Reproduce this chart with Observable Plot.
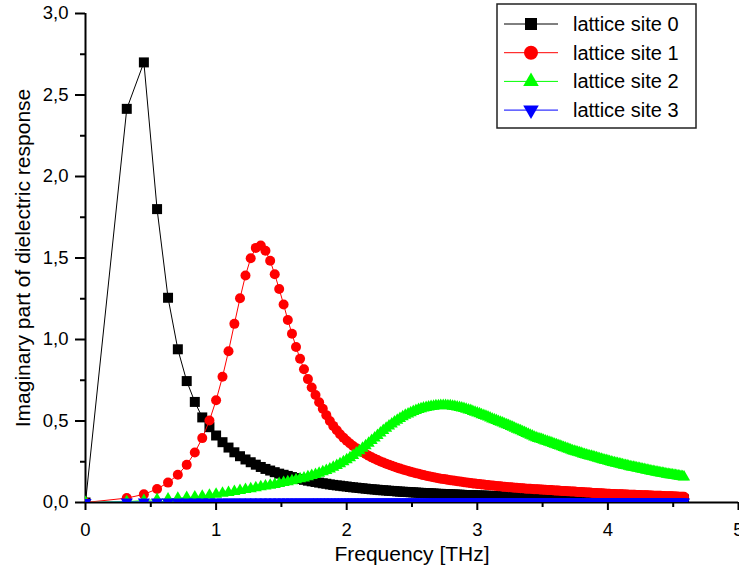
<!DOCTYPE html>
<html><head><meta charset="utf-8">
<script src="https://cdn.jsdelivr.net/npm/d3@7"></script>
<script src="https://cdn.jsdelivr.net/npm/@observablehq/plot@0.6"></script>
<style>
html,body{margin:0;padding:0;background:#fff;}
#wrap{position:relative;width:739px;height:574px;font-family:"Liberation Sans",Arial,Helvetica,sans-serif;}
#legend{position:absolute;left:496px;top:3px;}
</style></head><body><div id="wrap"></div>
<script>
// Frequency [THz]
const freq = [
0, 0.316, 0.447, 0.548, 0.632, 0.707, 0.775, 0.837, 0.894, 0.949,
1, 1.049, 1.095, 1.140, 1.183, 1.225, 1.265, 1.304, 1.342, 1.378,
1.414, 1.449, 1.483, 1.517, 1.549, 1.581, 1.612, 1.643, 1.673, 1.703,
1.732, 1.761, 1.789, 1.817, 1.844, 1.871, 1.897, 1.924, 1.949, 1.975,
2, 2.025, 2.049, 2.074, 2.098, 2.121, 2.145, 2.168, 2.191, 2.214,
2.236, 2.258, 2.280, 2.302, 2.324, 2.345, 2.366, 2.387, 2.408, 2.429,
2.449, 2.470, 2.490, 2.510, 2.530, 2.550, 2.569, 2.588, 2.608, 2.627,
2.646, 2.665, 2.683, 2.702, 2.720, 2.739, 2.757, 2.775, 2.793, 2.811,
2.828, 2.846, 2.864, 2.881, 2.898, 2.915, 2.933, 2.950, 2.966, 2.983,
3, 3.017, 3.033, 3.050, 3.066, 3.082, 3.098, 3.114, 3.130, 3.146,
3.162, 3.178, 3.194, 3.209, 3.225, 3.240, 3.256, 3.271, 3.286, 3.302,
3.317, 3.332, 3.347, 3.362, 3.376, 3.391, 3.406, 3.421, 3.435, 3.450,
3.464, 3.479, 3.493, 3.507, 3.521, 3.536, 3.550, 3.564, 3.578, 3.592,
3.606, 3.619, 3.633, 3.647, 3.661, 3.674, 3.688, 3.701, 3.715, 3.728,
3.742, 3.755, 3.768, 3.782, 3.795, 3.808, 3.821, 3.834, 3.847, 3.860,
3.873, 3.886, 3.899, 3.912, 3.924, 3.937, 3.950, 3.962, 3.975, 3.987,
4, 4.012, 4.025, 4.037, 4.050, 4.062, 4.074, 4.087, 4.099, 4.111,
4.123, 4.135, 4.147, 4.159, 4.171, 4.183, 4.195, 4.207, 4.219, 4.231,
4.243, 4.254, 4.266, 4.278, 4.290, 4.301, 4.313, 4.324, 4.336, 4.347,
4.359, 4.370, 4.382, 4.393, 4.405, 4.416, 4.427, 4.438, 4.450, 4.461,
4.472, 4.483, 4.494, 4.506, 4.517, 4.528, 4.539, 4.550, 4.561, 4.572,
4.583];

// lattice site 0
const site0 = [
0, 2.415, 2.70, 1.80, 1.256, 0.94, 0.745, 0.617, 0.522, 0.462,
0.411, 0.37, 0.337, 0.308, 0.284, 0.264, 0.247, 0.232, 0.218, 0.206,
0.196, 0.186, 0.177, 0.170, 0.163, 0.156, 0.150, 0.144, 0.139, 0.134,
0.130, 0.126, 0.122, 0.118, 0.115, 0.111, 0.108, 0.105, 0.103, 0.100,
0.098, 0.095, 0.093, 0.091, 0.089, 0.087, 0.085, 0.083, 0.081, 0.080,
0.078, 0.076, 0.075, 0.074, 0.072, 0.071, 0.070, 0.068, 0.067, 0.066,
0.065, 0.064, 0.063, 0.062, 0.061, 0.060, 0.059, 0.058, 0.057, 0.057,
0.056, 0.055, 0.054, 0.053, 0.053, 0.052, 0.051, 0.051, 0.050, 0.049,
0.049, 0.048, 0.048, 0.047, 0.046, 0.046, 0.045, 0.045, 0.044, 0.044,
0.043, 0.043, 0.042, 0.042, 0.041, 0.041, 0.041, 0.040, 0.040, 0.039,
0.039, 0.039, 0.038, 0.038, 0.038, 0.037, 0.037, 0.036, 0.036, 0.036,
0.035, 0.035, 0.035, 0.035, 0.034, 0.034, 0.034, 0.033, 0.033, 0.033,
0.033, 0.032, 0.032, 0.032, 0.031, 0.031, 0.031, 0.031, 0.030, 0.030,
0.030, 0.030, 0.030, 0.029, 0.029, 0.029, 0.029, 0.028, 0.028, 0.028,
0.028, 0.028, 0.027, 0.027, 0.027, 0.027, 0.027, 0.027, 0.026, 0.026,
0.026, 0.026, 0.026, 0.026, 0.025, 0.025, 0.025, 0.025, 0.025, 0.025,
0.024, 0.024, 0.024, 0.024, 0.024, 0.024, 0.023, 0.023, 0.023, 0.023,
0.023, 0.023, 0.023, 0.023, 0.022, 0.022, 0.022, 0.022, 0.022, 0.022,
0.022, 0.022, 0.021, 0.021, 0.021, 0.021, 0.021, 0.021, 0.021, 0.021,
0.021, 0.020, 0.020, 0.020, 0.020, 0.020, 0.020, 0.020, 0.020, 0.020,
0.020, 0.019, 0.019, 0.019, 0.019, 0.019, 0.019, 0.019, 0.019, 0.019,
0.019];

// lattice site 1
const site1 = [
0, 0.027, 0.05, 0.083, 0.122, 0.17, 0.231, 0.307, 0.395, 0.503,
0.627, 0.771, 0.928, 1.096, 1.253, 1.393, 1.499, 1.562, 1.577, 1.544,
1.483, 1.40, 1.31, 1.215, 1.12, 1.035, 0.954, 0.882, 0.817, 0.757,
0.705, 0.66, 0.615, 0.575, 0.536, 0.500, 0.470, 0.443, 0.419, 0.398,
0.379, 0.362, 0.347, 0.333, 0.320, 0.308, 0.297, 0.287, 0.277, 0.268,
0.260, 0.252, 0.245, 0.238, 0.232, 0.225, 0.219, 0.213, 0.208, 0.203,
0.198, 0.193, 0.188, 0.184, 0.180, 0.176, 0.172, 0.168, 0.164, 0.161,
0.158, 0.155, 0.152, 0.149, 0.146, 0.144, 0.142, 0.139, 0.137, 0.135,
0.133, 0.131, 0.129, 0.127, 0.125, 0.123, 0.121, 0.119, 0.117, 0.116,
0.114, 0.113, 0.111, 0.110, 0.108, 0.107, 0.105, 0.104, 0.103, 0.101,
0.100, 0.099, 0.097, 0.096, 0.095, 0.094, 0.093, 0.092, 0.091, 0.090,
0.089, 0.088, 0.087, 0.086, 0.085, 0.084, 0.084, 0.083, 0.082, 0.081,
0.081, 0.080, 0.079, 0.078, 0.078, 0.077, 0.076, 0.076, 0.075, 0.074,
0.073, 0.073, 0.072, 0.071, 0.071, 0.070, 0.069, 0.069, 0.068, 0.067,
0.067, 0.066, 0.065, 0.065, 0.064, 0.063, 0.063, 0.062, 0.061, 0.061,
0.060, 0.059, 0.059, 0.058, 0.057, 0.057, 0.056, 0.055, 0.055, 0.054,
0.053, 0.053, 0.052, 0.052, 0.052, 0.051, 0.051, 0.050, 0.050, 0.050,
0.049, 0.049, 0.049, 0.048, 0.048, 0.048, 0.047, 0.047, 0.046, 0.046,
0.046, 0.045, 0.045, 0.045, 0.044, 0.044, 0.043, 0.043, 0.043, 0.042,
0.042, 0.042, 0.041, 0.041, 0.041, 0.040, 0.040, 0.039, 0.039, 0.039,
0.038, 0.038, 0.038, 0.037, 0.037, 0.037, 0.036, 0.036, 0.035, 0.035,
0.035];

// lattice site 2
const site2 = [
0, 0.005, 0.012, 0.018, 0.022, 0.026, 0.030, 0.034, 0.039, 0.045,
0.050, 0.056, 0.062, 0.068, 0.074, 0.079, 0.085, 0.090, 0.096, 0.101,
0.106, 0.111, 0.117, 0.122, 0.127, 0.133, 0.139, 0.145, 0.151, 0.158,
0.165, 0.172, 0.180, 0.188, 0.197, 0.206, 0.216, 0.227, 0.238, 0.250,
0.262, 0.275, 0.289, 0.303, 0.318, 0.333, 0.348, 0.364, 0.380, 0.396,
0.411, 0.426, 0.441, 0.455, 0.469, 0.482, 0.494, 0.505, 0.516, 0.526,
0.535, 0.543, 0.551, 0.558, 0.564, 0.570, 0.575, 0.579, 0.583, 0.586,
0.589, 0.591, 0.593, 0.594, 0.595, 0.595, 0.595, 0.594, 0.593, 0.591,
0.589, 0.586, 0.583, 0.580, 0.576, 0.572, 0.568, 0.564, 0.559, 0.554,
0.549, 0.544, 0.539, 0.534, 0.529, 0.524, 0.519, 0.513, 0.508, 0.503,
0.497, 0.492, 0.487, 0.482, 0.477, 0.472, 0.466, 0.461, 0.456, 0.450,
0.445, 0.440, 0.434, 0.429, 0.424, 0.418, 0.413, 0.408, 0.402, 0.397,
0.393, 0.390, 0.386, 0.382, 0.378, 0.374, 0.370, 0.366, 0.362, 0.358,
0.354, 0.350, 0.346, 0.342, 0.338, 0.334, 0.330, 0.326, 0.322, 0.318,
0.315, 0.312, 0.308, 0.305, 0.302, 0.298, 0.295, 0.292, 0.289, 0.286,
0.283, 0.280, 0.277, 0.274, 0.271, 0.268, 0.265, 0.262, 0.259, 0.257,
0.254, 0.251, 0.249, 0.246, 0.244, 0.241, 0.239, 0.236, 0.234, 0.232,
0.229, 0.227, 0.225, 0.222, 0.220, 0.218, 0.216, 0.214, 0.212, 0.210,
0.208, 0.206, 0.204, 0.202, 0.200, 0.198, 0.196, 0.194, 0.192, 0.190,
0.188, 0.186, 0.185, 0.183, 0.181, 0.179, 0.178, 0.176, 0.174, 0.173,
0.171, 0.170, 0.168, 0.167, 0.165, 0.164, 0.162, 0.161, 0.160, 0.158,
0.157];

// lattice site 3
const site3 = [
0, 0.003, 0.003, 0.003, 0.003, 0.003, 0.003, 0.003, 0.003, 0.003,
0.003, 0.003, 0.003, 0.003, 0.003, 0.003, 0.003, 0.003, 0.003, 0.003,
0.003, 0.003, 0.003, 0.003, 0.003, 0.003, 0.003, 0.003, 0.003, 0.003,
0.003, 0.003, 0.003, 0.003, 0.003, 0.003, 0.003, 0.003, 0.003, 0.003,
0.003, 0.003, 0.003, 0.003, 0.003, 0.003, 0.003, 0.003, 0.003, 0.003,
0.003, 0.003, 0.003, 0.003, 0.003, 0.003, 0.003, 0.003, 0.003, 0.003,
0.003, 0.003, 0.003, 0.003, 0.003, 0.003, 0.003, 0.003, 0.003, 0.003,
0.003, 0.003, 0.003, 0.003, 0.003, 0.003, 0.003, 0.003, 0.003, 0.003,
0.003, 0.003, 0.003, 0.003, 0.003, 0.003, 0.003, 0.003, 0.003, 0.003,
0.003, 0.003, 0.003, 0.003, 0.003, 0.003, 0.003, 0.003, 0.003, 0.003,
0.003, 0.003, 0.003, 0.003, 0.003, 0.003, 0.003, 0.003, 0.003, 0.003,
0.003, 0.003, 0.003, 0.003, 0.003, 0.003, 0.003, 0.003, 0.003, 0.003,
0.003, 0.003, 0.003, 0.003, 0.003, 0.003, 0.003, 0.003, 0.003, 0.003,
0.003, 0.003, 0.003, 0.003, 0.003, 0.003, 0.003, 0.003, 0.003, 0.003,
0.003, 0.003, 0.003, 0.003, 0.003, 0.003, 0.003, 0.003, 0.003, 0.003,
0.003, 0.003, 0.003, 0.003, 0.003, 0.003, 0.003, 0.003, 0.003, 0.003,
0.003, 0.003, 0.003, 0.003, 0.003, 0.003, 0.003, 0.003, 0.003, 0.003,
0.003, 0.003, 0.003, 0.003, 0.003, 0.003, 0.003, 0.003, 0.003, 0.003,
0.003, 0.003, 0.003, 0.003, 0.003, 0.003, 0.003, 0.003, 0.003, 0.003,
0.003, 0.003, 0.003, 0.003, 0.003, 0.003, 0.003, 0.003, 0.003, 0.003,
0.003, 0.003, 0.003, 0.003, 0.003, 0.003, 0.003, 0.003, 0.003, 0.003,
0.003];

const seriesNames = ["lattice site 0", "lattice site 1", "lattice site 2", "lattice site 3"];
const seriesColors = ["#000000", "#ff0000", "#00ff00", "#0000ff"];
const xTicks = [0, 1, 2, 3, 4, 5];
const xMinorTicks = [0.5, 1.5, 2.5, 3.5, 4.5];
const yTicks = [0, 0.5, 1, 1.5, 2, 2.5, 3];
const yMinorTicks = [0.25, 0.75, 1.25, 1.75, 2.25, 2.75];
const xTitle = "Frequency [THz]";
const yTitle = "Imaginary part of dielectric response";

const SQ3 = Math.sqrt(3);
const downTriangle = {
  draw(ctx, size) {
    const y = -Math.sqrt(size / (SQ3 * 3));
    ctx.moveTo(0, -y * 2);
    ctx.lineTo(-SQ3 * y, y);
    ctx.lineTo(SQ3 * y, y);
    ctx.closePath();
  }
};
const symbols = ["square", "circle", "triangle", downTriangle];
const radii = [5.64, 5, 4.5, 4.5];

const tables = [site0, site1, site2, site3].map(s => freq.map((x, i) => ({x, y: s[i]})));

const FONT = "'Liberation Sans', Arial, Helvetica, sans-serif";

const marks = [
  Plot.ruleX([0], {strokeWidth: 2}),
  Plot.ruleY([0], {strokeWidth: 2}),
  Plot.axisX({ticks: xTicks, tickSize: 8, tickPadding: 12, strokeWidth: 2, fontSize: 18.5, tickFormat: d => String(d), label: null}),
  Plot.axisX({ticks: xMinorTicks, tickSize: 5, strokeWidth: 2, tickFormat: () => "", label: null}),
  Plot.axisY({ticks: yTicks, tickSize: 10, tickPadding: 7, strokeWidth: 2, fontSize: 18.5, tickFormat: d => d.toFixed(1).replace(".", ","), label: null}),
  Plot.axisY({ticks: yMinorTicks, tickSize: 5, strokeWidth: 2, tickFormat: () => "", label: null}),
  Plot.text([xTitle], {text: d => d, frameAnchor: "bottom", dy: 52, fontSize: 21, lineAnchor: "middle", textAnchor: "middle"}),
  Plot.text([yTitle], {text: d => d, frameAnchor: "left", dx: -62, rotate: -90, fontSize: 21, lineAnchor: "middle", textAnchor: "middle"})
];
tables.forEach((t, i) => {
  marks.push(Plot.line(t, {x: "x", y: "y", stroke: seriesColors[i], strokeWidth: 1, clip: true}));
  marks.push(Plot.dot(t, {x: "x", y: "y", symbol: symbols[i], r: radii[i], fill: seriesColors[i], stroke: "none", clip: true}));
});

const chart = Plot.plot({
  width: 739,
  height: 574,
  marginLeft: 85,
  marginRight: 1,
  marginTop: 13,
  marginBottom: 72,
  style: {fontFamily: FONT, color: "#000", background: "#fff", overflow: "visible"},
  x: {domain: [0, 5]},
  y: {domain: [0, 3]},
  marks
});
const wrap = document.getElementById("wrap");
wrap.appendChild(chart);

// legend (overlay, top right inside the plot)
const legW = 201, legH = 126;
const leg = d3.create("svg").attr("id", "legend").attr("width", legW).attr("height", legH);
leg.append("rect").attr("x", 1).attr("y", 1).attr("width", 199).attr("height", 124)
  .attr("fill", "#fff").attr("stroke", "#222").attr("stroke-width", 1.5);
const legSizes = [144, 154, 105, 105];
seriesNames.forEach((name, i) => {
  const cy = 21 + i * 28.7;
  const g = leg.append("g");
  g.append("line").attr("x1", 8).attr("x2", 62).attr("y1", cy).attr("y2", cy)
    .attr("stroke", seriesColors[i]).attr("stroke-width", 1);
  const symType = [d3.symbolSquare, d3.symbolCircle, d3.symbolTriangle, downTriangle][i];
  g.append("path").attr("d", d3.symbol(symType, legSizes[i])())
    .attr("transform", `translate(35,${cy})`).attr("fill", seriesColors[i]);
  g.append("text").attr("x", 77).attr("y", cy).attr("dy", "0.35em")
    .attr("font-family", FONT).attr("font-size", 20).attr("fill", "#000").text(name);
});
wrap.appendChild(leg.node());
</script>
</body></html>
